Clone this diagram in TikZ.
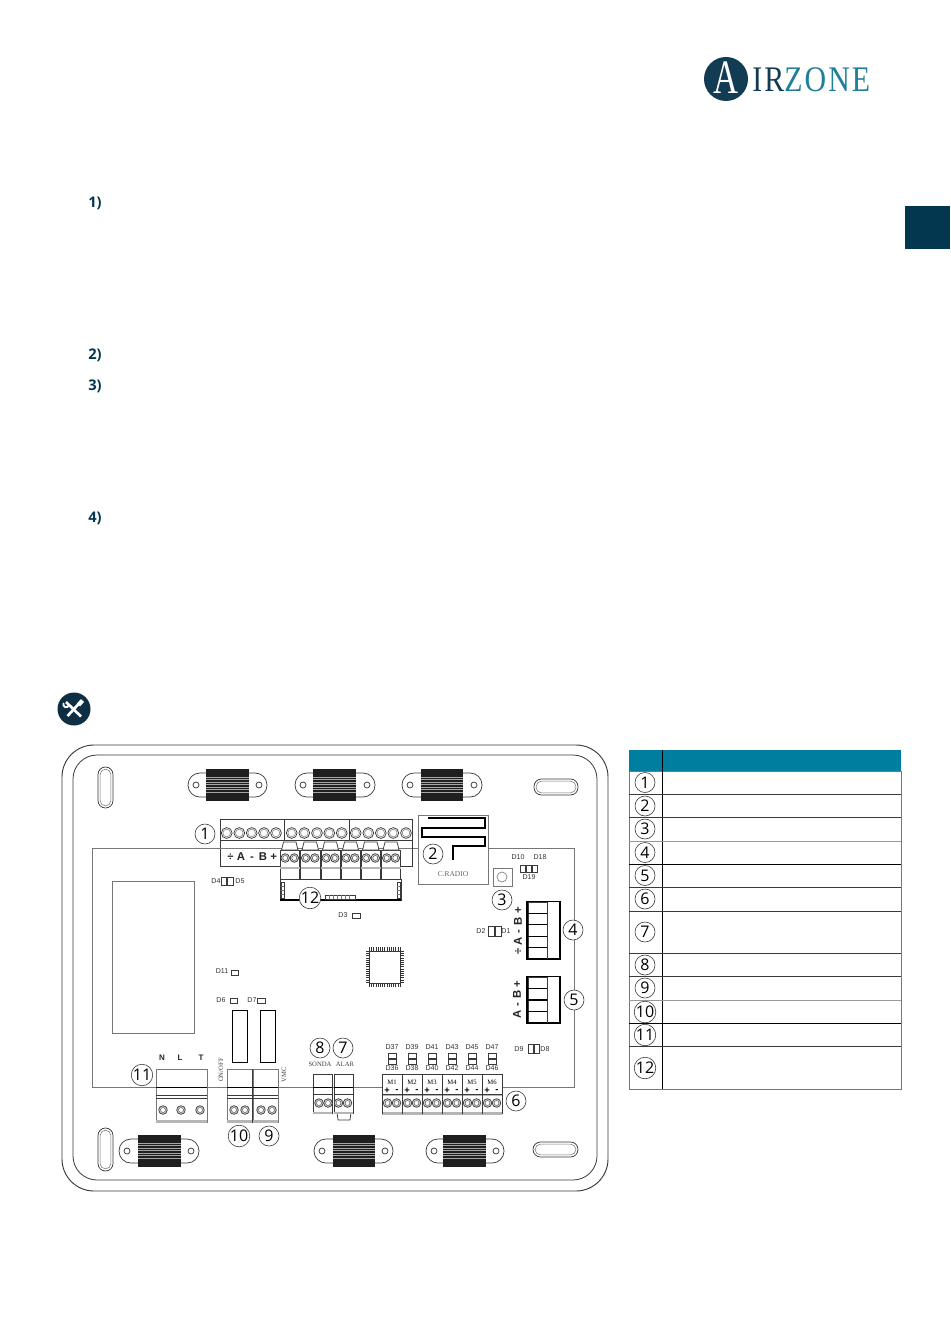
\documentclass[tikz,border=0pt]{standalone}
\usepackage{fontspec}
\setmainfont{Open Sans}
\newfontfamily\serifx{Liberation Serif}
\newfontfamily\sansx{Liberation Sans}
\definecolor{navy}{HTML}{123B54}
\definecolor{tabc}{HTML}{03374F}
\definecolor{teal1}{HTML}{1F7F9A}
\definecolor{headc}{HTML}{007E9F}
\definecolor{lined}{HTML}{3A3A3A}
\definecolor{lineg}{HTML}{777777}
\definecolor{bandg}{HTML}{B5B5B5}
\tikzset{
  thinline/.style={draw=lined,line width=0.55pt},
  grayline/.style={draw=lineg,line width=0.6pt},
  boxw/.style={draw=lined,line width=0.55pt,fill=white},
  numc/.style={circle,draw=lined,line width=0.45pt,fill=white,minimum size=15pt,inner sep=0pt,font=\fontsize{12}{12}\selectfont,text=black},
  dlab/.style={inner sep=0pt,font=\sansx\fontsize{5.3}{5.3}\selectfont,text=black!80},
  slab/.style={inner sep=0pt,font=\serifx\fontsize{5}{5}\selectfont,text=black!75},
  blab/.style={inner sep=0pt,font=\sansx\bfseries\fontsize{8.5}{8.5}\selectfont,text=black!85},
  nlab/.style={inner sep=0pt,font=\sansx\bfseries\fontsize{6}{6}\selectfont,text=black!85},
  stepnum/.style={inner sep=0pt,anchor=west,font=\bfseries\fontsize{11}{12}\selectfont,text=tabc},
  ledbox/.style={draw=lined,line width=0.4pt,fill=white},
}
\newcommand{\myslot}[4]{%
  \draw[thinline,rounded corners=5.6pt] (#1,#2) rectangle (#3,#4);
  \draw[grayline,line width=0.4pt,rounded corners=3.8pt] ({#1+2.2},{#2+2.2}) rectangle ({#3-2.2},{#4-2.2});
}
\newcommand{\myclamp}[5]{%
  \draw[thinline,rounded corners=8.9pt,fill=white] (#1,{#5-12}) rectangle (#2,{#5+12});
  \draw[thinline,fill=white] ({#1+8},#5) circle (3);
  \draw[thinline,fill=white] ({#2-8},#5) circle (3);
  \fill[black!88] (#3,{#5-16}) rectangle (#4,{#5+16});
  \foreach \yy in {-8,-5.5,...,8.5}{\draw[white!65!black,line width=0.3pt] (#3,{#5+\yy}) -- (#4,{#5+\yy});}
}
\newcommand{\myscrew}[2]{%
  \draw[draw=lined,line width=0.55pt,fill=white!85!black] (#1,#2) circle (4.3);
  \draw[draw=lined,line width=0.3pt,fill=white] (#1,#2) circle (2.5);
}
\newcommand{\myring}[2]{%
  \draw[draw=lined,line width=0.55pt,fill=white] (#1,#2) circle (5.4);
  \draw[draw=black!45,line width=0.5pt,fill=white] (#1,#2) circle (3.8);
}
\newcommand{\myled}[4]{\draw[ledbox] (#1,#2) rectangle (#3,#4);}
\begin{document}
\begin{tikzpicture}[x=0.75pt,y=-0.75pt]
\useasboundingbox (0,0) rectangle (950,1344);
\fill[white] (0,0) rectangle (950,1344);
% logo
\fill[navy] (726,79) circle (22);
\node[inner sep=0pt,text=white,font=\serifx\fontsize{36}{36}\selectfont] (logoa) at (726,78) {\scalebox{0.72}[1]{A}};
\node[inner sep=0pt,anchor=base west,font=\serifx\fontsize{27}{27}\selectfont] (logot) at (752,92) {\scalebox{0.83}[1]{\addfontfeature{LetterSpace=7}\textcolor{navy}{IR}\textcolor{teal1}{ZONE}}};
% side tab
\fill[tabc] (905,206) rectangle (950,249);
% step labels
\node[stepnum] (s1) at (88,203.5) {1)};
\node[stepnum] (s2) at (88,355.5) {2)};
\node[stepnum] (s3) at (88,386.5) {3)};
\node[stepnum] (s4) at (88,518.5) {4)};
% tools icon
\fill[navy!80!black] (74,709) circle (16.5);
\draw[white,line width=2pt] (67.5,716) -- (80,702.5);
\draw[white,line width=2pt] (66,702) -- (81,716.5);
\draw[white,line width=1.4pt,line cap=round] (63.5,703.5) arc (200:20:2.8);
\draw[white,line width=3.2pt] (78.5,705) -- (82.5,700.5);
% housing
\draw[draw=lined,line width=0.7pt,rounded corners=24pt] (62,745) rectangle (608,1191);
\draw[draw=lined,line width=0.6pt,rounded corners=18pt] (73,755) rectangle (597,1180);
% slots
\myslot{98}{767}{113}{808}
\myslot{534}{779}{578}{795}
\myslot{98}{1128}{113}{1171}
\myslot{533}{1142}{578}{1157}
% clamps
\myclamp{188}{267}{206}{249}{785}
\myclamp{295}{375}{313}{356}{785}
\myclamp{402}{482}{421}{463}{785}
\myclamp{119}{199}{138}{181}{1151}
\myclamp{314}{393}{333}{375}{1151}
\myclamp{426}{504}{443}{486}{1151}
% pcb
\draw[grayline] (92,848) rectangle (574,1087);
\draw[grayline] (112,881) rectangle (194,1033);
% main terminal
\draw[boxw,line width=0.7pt] (220,819) rectangle (412,866);
\draw[thinline] (220,840) -- (412,840);
\draw[grayline] (220,848) -- (412,848);
\draw[thinline] (284,819) -- (284,840);
\draw[thinline] (349,819) -- (349,840);
\foreach \xx in {226.7,239.3,251.7,264,276,291.7,304.3,317,329.3,341.7,355.7,368.3,380.8,393.3,406}{\myring{\xx}{833}}
\node[blab,anchor=west] (lab1) at (227,857) {÷\hspace{2.5pt}A\hspace{3.8pt}-\hspace{3.8pt}B\hspace{2.5pt}+};
% module under terminal
\draw[boxw] (280,879) rectangle (401,900);
\draw[draw=black,line width=0.8pt] (280,900) -- (401,900);
\draw[ledbox,line width=0.3pt] (281,882) rectangle (284,898);
\draw[ledbox,line width=0.3pt] (397,882) rectangle (400,898);
\draw[ledbox,line width=0.3pt] (325,895) rectangle (355,899);
\foreach \yy in {886,890,894}{\draw[lineg,line width=0.25pt] (281,\yy) -- (284,\yy); \draw[lineg,line width=0.25pt] (397,\yy) -- (400,\yy);}
\foreach \xx in {329,333,337,341,345,349}{\draw[lineg,line width=0.25pt] (\xx,895) -- (\xx,899);}
% six plugs
\foreach \xa/\xb in {280/299.5,300.5/320,321/340,341/360,361/380.5,381.5/400.5}{
  \draw[boxw] (\xa,850) rectangle (\xb,879);
  \draw[thinline,fill=white] ({\xa+1.5},850) -- ({\xa+3.5},842) -- ({\xb-3.5},842) -- ({\xb-1.5},850) -- cycle;
  \fill[bandg] (\xa,867) rectangle (\xb,869);
  \myscrew{\xa+5.2}{858}
  \myscrew{\xb-5.2}{858}
}
% radio
\draw[boxw,draw=lineg,line width=0.7pt] (418,815) rectangle (488,884);
\draw[black,line width=1.7pt,line join=miter] (428,818) -- (485,818) -- (485,828) -- (422,828) -- (422,837) -- (485,837) -- (485,846) -- (453,846) -- (453,860);
\node[slab,text=black!60,font=\serifx\fontsize{5.6}{6}\selectfont] (radio) at (453,874) {C.RADIO};
% button
\draw[boxw,draw=lineg,line width=0.7pt] (493,868) rectangle (512,886);
\draw[grayline,line width=0.45pt] (502,877) circle (5);
% LEDs right
\node[dlab] (d10) at (518,857) {D10};
\node[dlab] (d18) at (540,857) {D18};
\node[dlab] (d19) at (529,877.5) {D19};
\foreach \xx in {520,526,532}{\myled{\xx}{865}{\xx+5}{872.5}}
% connector 4
\draw[boxw] (528,902) rectangle (547,959);
\foreach \yy in {913.4,924.8,936.2,947.6}{\draw[draw=black,line width=0.8pt] (528,\yy) -- (547,\yy);}
\draw[draw=black,line width=1.1pt] (527,901.5) -- (560,901.5) -- (560,959) -- (527,959) -- cycle;
\draw[draw=lined,line width=0.5pt] (547,901.5) -- (547,959);
\node[blab,rotate=90] (lab4) at (518,931) {÷\hspace{2.5pt}A\hspace{3pt}-\hspace{3pt}B\hspace{2.5pt}+};
% connector 5
\draw[boxw] (528,977) rectangle (547,1023);
\foreach \yy in {988.5,1000,1011.5}{\draw[draw=black,line width=0.8pt] (528,\yy) -- (547,\yy);}
\draw[draw=black,line width=1.1pt] (527,976.5) -- (560,976.5) -- (560,1023) -- (527,1023) -- cycle;
\draw[draw=lined,line width=0.5pt] (547,976.5) -- (547,1023);
\node[blab,rotate=90] (lab5) at (517,1000) {A\hspace{3pt}-\hspace{3pt}B\hspace{2pt}+};
% D labels
\node[dlab] (d2) at (481,931) {D2};
\myled{488}{926}{494}{936}
\myled{495}{926}{501}{936}
\node[dlab] (d1) at (506,931) {D1};
\node[dlab] (d4) at (216,881) {D4};
\myled{221}{877}{226.5}{885}
\myled{227.5}{877}{233}{885}
\node[dlab] (d5) at (240,881) {D5};
\node[dlab] (d3) at (343,915) {D3};
\myled{352}{913}{360}{918}
\node[dlab] (d11) at (222,971) {D11};
\myled{231}{970}{238}{975}
\node[dlab] (d6) at (221,1000) {D6};
\myled{230}{998}{237}{1003}
\node[dlab] (d7) at (252,1000) {D7};
\myled{257}{998}{265}{1003}
\node[dlab] (d9) at (519,1049) {D9};
\myled{528}{1044}{533}{1053}
\myled{534}{1044}{539}{1053}
\node[dlab] (d8) at (545,1049) {D8};
% chip
\draw[thinline,fill=white] (369,951) rectangle (400,983);
\draw[black!80,line width=2.4pt,dash pattern=on 0.8pt off 0.85pt] (369,949) -- (400,949);
\draw[black!80,line width=2.4pt,dash pattern=on 0.8pt off 0.85pt] (369,985) -- (400,985);
\draw[black!80,line width=2.4pt,dash pattern=on 0.8pt off 0.85pt] (367.5,951) -- (367.5,983);
\draw[black!80,line width=2.4pt,dash pattern=on 0.8pt off 0.85pt] (402,951) -- (402,983);
% tall rects
\draw[boxw,draw=black,line width=0.7pt] (232,1010) rectangle (247,1062);
\draw[boxw,draw=black,line width=0.7pt] (260,1010) rectangle (275,1062);
% connector 11
\draw[boxw,draw=lineg] (156,1069) rectangle (207,1122);
\draw[draw=black,line width=0.7pt] (156,1087) -- (207,1087);
\draw[thinline] (156,1095) -- (207,1095);
\draw[thinline] (156,1098) -- (207,1098);
\fill[bandg] (156,1120) rectangle (207,1123);
\foreach \xx in {163,181,200}{\myscrew{\xx}{1110}}
\node[nlab] (nn) at (162,1058) {N};
\node[nlab] (nl) at (180,1058) {L};
\node[nlab] (nt) at (201,1058) {T};
% connectors 10 and 9
\foreach \xa/\xb/\sa/\sb in {227/252/234/245,253/278/261/272}{
  \draw[boxw,draw=lineg] (\xa,1069) rectangle (\xb,1122);
  \draw[draw=black,line width=0.7pt] (\xa,1087) -- (\xb,1087);
  \draw[thinline] (\xa,1095) -- (\xb,1095);
  \draw[thinline] (\xa,1098) -- (\xb,1098);
  \fill[bandg] (\xa,1120) rectangle (\xb,1123);
  \myscrew{\sa}{1110}
  \myscrew{\sb}{1110}
}
\draw[draw=lined,line width=1pt] (252.5,1069) -- (252.5,1123);
\node[slab,rotate=90] (onoff) at (221,1070) {ON/OFF};
\node[slab,rotate=90] (vmc) at (284,1075) {VMC};
% connectors 8 and 7
\draw[thinline,fill=white] (337,1112) -- (338,1120) -- (350,1120) -- (351,1112) -- cycle;
\foreach \xa/\xb/\sa/\sb in {313/332/319/328,334/353/338.5/347.5}{
  \draw[boxw] (\xa,1074) rectangle (\xb,1113);
  \draw[draw=black,line width=0.7pt] (\xa,1087) -- (\xb,1087);
  \draw[thinline] (\xa,1094) -- (\xb,1094);
  \fill[bandg] (\xa,1112) rectangle (\xb,1114);
  \myscrew{\sa}{1103}
  \myscrew{\sb}{1103}
}
\node[slab] (sonda) at (320,1064) {SONDA};
\node[slab] (alar) at (345,1064) {ALAR};
% connector 6
\foreach \i/\xa/\top/\bot in {1/382/D37/D36,2/402/D39/D38,3/422/D41/D40,4/442/D43/D42,5/462/D45/D44,6/482/D47/D46}{
  \draw[boxw] (\xa,1074) rectangle (\xa+20,1113);
  \draw[thinline] (\xa,1094) -- (\xa+20,1094);
  \fill[bandg] (\xa,1094.5) rectangle (\xa+20,1096);
  \fill[bandg] (\xa,1112) rectangle (\xa+20,1114.5);
  \draw[draw=lined,line width=0.65pt] (\xa,1074) -- (\xa,1114);
  \myscrew{\xa+5.5}{1103}
  \myscrew{\xa+14.5}{1103}
  \node[slab,text=black] (m\i) at (\xa+10,1082.5) {M\i};
  \node[inner sep=0pt,font=\sansx\bfseries\fontsize{7}{7}\selectfont] (mp\i) at (\xa+5,1090.5) {+};
  \node[inner sep=0pt,font=\sansx\bfseries\fontsize{7}{7}\selectfont] (mm\i) at (\xa+15,1090.5) {-};
  \node[dlab] (dt\i) at (\xa+10,1047) {\top};
  \node[dlab] (db\i) at (\xa+10,1068) {\bot};
  \myled{\xa+6}{1053}{\xa+14}{1058}
  \myled{\xa+6}{1059}{\xa+14}{1064}
}
\draw[draw=lined,line width=0.65pt] (502,1074) -- (502,1114);
% numbered circles
\node[numc] (c1) at (205,834) {1};
\node[numc] (c2) at (433,854) {2};
\node[numc] (c3) at (502,900) {3};
\node[numc] (c4) at (573,930) {4};
\node[numc] (c5) at (574,1000) {5};
\node[numc] (c6) at (516,1101) {6};
\node[numc] (c7) at (343,1048) {7};
\node[numc] (c8) at (320,1048) {8};
\node[numc] (c9) at (269,1136) {9};
\node[numc] (c10) at (239,1136) {10};
\node[numc] (c11) at (142,1075) {11};
\node[numc] (c12) at (310,898) {12};
% table
\fill[headc] (629,750) rectangle (901,771);
\draw[draw=lineg,line width=0.7pt] (629,771) rectangle (901,1089.3);
\draw[draw=black,line width=0.7pt] (662,750) -- (662,1089.3);
\foreach \yy/\cc in {794.3/lined,817.7/lined,841/black!40,864.3/black,887.7/lined,911.3/lined,953.3/lined,976.7/lined,1000/black!40,1023.7/black,1046.7/lined}{
  \draw[draw=\cc,line width=0.7pt] (629,\yy) -- (901,\yy);
}
\foreach \i/\yy in {1/782.5,2/806,3/829,4/852.5,5/875.5,6/899,7/932,8/965,9/988,10/1012,11/1035,12/1068}{
  \node[numc] (t\i) at (645,\yy) {\i};
}
\end{tikzpicture}
\end{document}
